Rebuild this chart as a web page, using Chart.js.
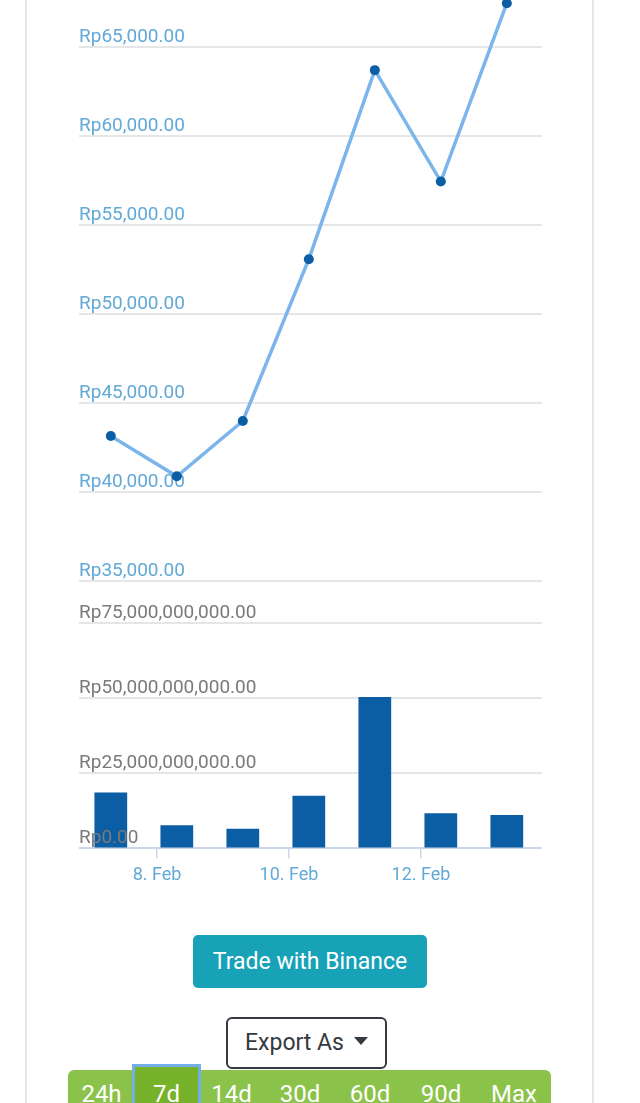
<!DOCTYPE html>
<html>
  <script src="https://cdn.jsdelivr.net/npm/chart.js"></script>
  <style>
    body { margin: 0; width: 640px; height: 1103px; overflow: hidden; background: #fff; font-family: Roboto, sans-serif; position: relative; }
    .edge { position: absolute; top: 0; width: 2px; height: 1103px; background: #e6e6e6; }
    #priceBox { position: absolute; left: 79px; top: -56px; width: 463px; height: 651px; }
    #volBox { position: absolute; left: 79px; top: 600px; width: 463px; height: 292px; }
    .trade { position: absolute; left: 193px; top: 935px; width: 234px; height: 53px; background: #17a2b8; color: #fff; border-radius: 5px; font-size: 23px; line-height: 53px; text-align: center; }
    .export { position: absolute; left: 226px; top: 1017px; width: 157px; height: 48px; border: 2px solid #343a40; border-radius: 6px; color: #343a40; font-size: 23px; line-height: 48px; text-align: center; box-sizing: content-box; }
    .caret { display: inline-block; width: 0; height: 0; border-left: 7px solid transparent; border-right: 7px solid transparent; border-top: 8px solid #343a40; vertical-align: middle; margin-left: 10px; margin-top: -6px; }
    .range { position: absolute; left: 68px; top: 1070px; width: 483px; height: 50px; background: #8bc34a; border-radius: 6px 6px 0 0; }
    .hl { position: absolute; left: 132px; top: 1064px; width: 63px; height: 50px; background: #77b32a; border: 3px solid #74aee8; border-bottom: none; }
    .labels { position: absolute; left: 68px; top: 1080px; display: flex; }
    .labels span { color: #fff; font-size: 24px; line-height: 28px; text-align: center; }
  </style>
  <body>
    <div class="edge" style="left:25px"></div>
    <div class="edge" style="left:592px"></div>
    <div id="priceBox"><canvas id="priceChart"></canvas></div>
    <div id="volBox"><canvas id="volChart"></canvas></div>
    <div class="trade">Trade with Binance</div>
    <div class="export">Export As<span class="caret"></span></div>
    <div class="range"></div>
    <div class="hl"></div>
    <div class="labels">
      <span style="width:67px">24h</span><span style="width:63px">7d</span><span style="width:67px">14d</span><span style="width:70px">30d</span><span style="width:70px">60d</span><span style="width:72px">90d</span><span style="width:74px">Max</span>
    </div>

    <script>
      // day of February for each daily sample
      var xDays = [7.3, 8.3, 9.3, 10.3, 11.3, 12.3, 13.3];
      var price = [43150, 40880, 43990, 53080, 63700, 57440, 67460];
      var volume = [18.6e9, 7.7e9, 6.5e9, 17.5e9, 50.4e9, 11.7e9, 11.1e9];
      var tickDays = [8, 10, 12];
      var tickLabels = ["8. Feb", "10. Feb", "12. Feb"];

      var xMin = 6.818, xMax = 13.833;

      Chart.defaults.font.family = "Roboto";
      Chart.defaults.animation = false;

      function rp(v) {
        return "Rp" + Number(v).toLocaleString("en-US", { minimumFractionDigits: 2, maximumFractionDigits: 2 });
      }

      new Chart("priceChart", {
        type: "line",
        data: {
          datasets: [{
            data: xDays.map(function (d, i) { return { x: d, y: price[i] }; }),
            borderColor: "#7cb5ec",
            borderWidth: 3.5,
            pointRadius: 5,
            pointBackgroundColor: "#0b5ea3",
            pointBorderWidth: 0,
            tension: 0,
            fill: false
          }]
        },
        options: {
          responsive: true,
          maintainAspectRatio: false,
          devicePixelRatio: 1,
          layout: { autoPadding: false, padding: { top: 14, bottom: 14, left: 0, right: 0 } },
          plugins: { legend: { display: false }, tooltip: { enabled: false } },
          scales: {
            x: { type: "linear", display: false, min: xMin, max: xMax },
            y: {
              min: 35000, max: 70000,
              border: { display: false },
              grid: { color: "#e6e6e6", lineWidth: 2, drawTicks: false },
              ticks: {
                stepSize: 5000, mirror: true, padding: 0, labelOffset: -10,
                color: "#62a9d8", font: { size: 19 },
                callback: function (v) { return rp(v); }
              }
            }
          }
        }
      });

      new Chart("volChart", {
        type: "bar",
        data: {
          datasets: [{
            data: xDays.map(function (d, i) { return { x: d, y: volume[i] }; }),
            backgroundColor: "#0b5ea3",
            barPercentage: 0.62,
            categoryPercentage: 0.8
          }]
        },
        options: {
          responsive: true,
          maintainAspectRatio: false,
          devicePixelRatio: 1,
          layout: { autoPadding: false, padding: { top: 23, bottom: 0, left: 0, right: 0 } },
          plugins: { legend: { display: false }, tooltip: { enabled: false } },
          scales: {
            x: {
              type: "linear", min: xMin, max: xMax, offset: false,
              border: { color: "#ccd6eb", width: 2 },
              grid: { offset: false, drawOnChartArea: false, tickLength: 10, color: "#ccd6eb", lineWidth: 1.5 },
              afterBuildTicks: function (axis) {
                axis.ticks = tickDays.map(function (v) { return { value: v }; });
              },
              ticks: {
                autoSkip: false, maxRotation: 0, padding: 6,
                color: "#62a9d8", font: { size: 18 },
                callback: function (v) { return tickLabels[tickDays.indexOf(v)]; }
              }
            },
            y: {
              min: 0, max: 75e9,
              border: { display: false },
              grid: { color: "#e6e6e6", lineWidth: 2, drawTicks: false },
              ticks: {
                stepSize: 25e9, mirror: true, padding: 0, labelOffset: -10, z: 1,
                color: "#7a7a7a", font: { size: 19 },
                callback: function (v) { return rp(v); }
              }
            }
          }
        }
      });
    </script>
  </body>
</html>
